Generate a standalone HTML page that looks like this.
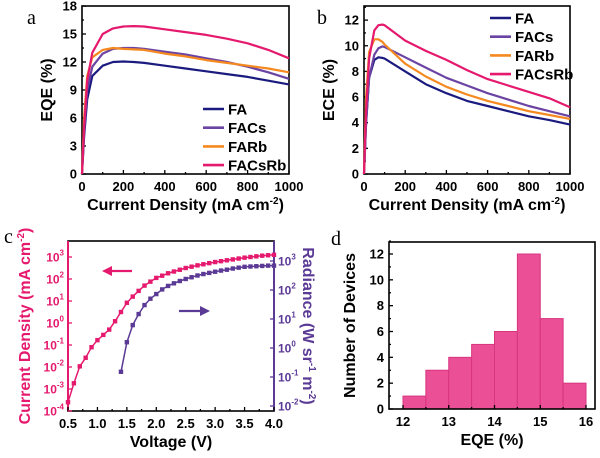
<!DOCTYPE html>
<html><head><meta charset="utf-8"><style>
body{margin:0;background:#fff;width:600px;height:453px;overflow:hidden}
svg{font-family:"Liberation Sans",Arial,sans-serif;font-weight:bold}
.pl{font-family:"Liberation Serif",serif;font-weight:normal;font-size:20px}
</style></head><body>
<svg id="fig" width="600" height="453" viewBox="0 0 600 453" xmlns="http://www.w3.org/2000/svg"></svg>
<script>
// ---- data panel a (EQE) ----
const eqeX=[0,10,25,50,100,150,200,250,300,400,500,600,700,800,900,1000];
const eqeFA=[0,4,8,10.5,11.6,12,12.05,12.0,11.9,11.6,11.3,11.0,10.7,10.4,10.0,9.6];
const eqeFACs=[0,4.5,9,11.5,12.9,13.4,13.5,13.5,13.4,13.1,12.8,12.4,12.0,11.5,10.9,10.2];
const eqeFARb=[0,6,10.5,12.5,13.3,13.5,13.4,13.35,13.3,12.9,12.6,12.2,11.9,11.6,11.3,10.9];
const eqeFACsRb=[0,5,10,13,15,15.6,15.8,15.85,15.8,15.5,15.2,14.9,14.5,14.0,13.3,12.4];
// ---- data panel b (ECE) ----
const eceX=[0,10,25,50,70,90,100,200,300,400,500,600,700,800,900,1000];
const eceFA=[0,4,7.5,8.9,9.1,9.05,9.0,8.0,7.0,6.3,5.7,5.3,4.9,4.5,4.2,3.85];
const eceFACs=[0,4,7.5,9.3,9.8,9.95,9.9,9.1,8.3,7.5,6.9,6.3,5.8,5.3,4.9,4.5];
const eceFARb=[0,6,9.5,10.5,10.5,10.3,10.1,8.6,7.6,6.8,6.2,5.7,5.3,4.9,4.6,4.3];
const eceFACsRb=[0,5,9,11.2,11.6,11.65,11.6,10.4,9.6,8.9,8.1,7.4,6.9,6.4,5.9,5.2];
// ---- data panel c (log10 values) ----
const voltJ=[0.5,0.6,0.7,0.8,0.9,1.0,1.1,1.2,1.3,1.4,1.5,1.6,1.7,1.8,1.9,2.0,2.1,2.2,2.3,2.4,2.5,2.6,2.7,2.8,2.9,3.0,3.1,3.2,3.3,3.4,3.5,3.6,3.7,3.8,3.9,4.0];
const logJ=[-3.6,-2.74,-1.97,-1.58,-1.1,-0.78,-0.54,-0.3,0.08,0.5,0.92,1.2,1.46,1.7,1.88,2.05,2.15,2.26,2.34,2.42,2.5,2.56,2.62,2.67,2.72,2.77,2.81,2.85,2.89,2.93,2.97,3.0,3.03,3.06,3.08,3.1];
const voltR=[1.4,1.5,1.6,1.7,1.8,1.9,2.0,2.1,2.2,2.3,2.4,2.5,2.6,2.7,2.8,2.9,3.0,3.1,3.2,3.3,3.4,3.5,3.6,3.7,3.8,3.9,4.0];
const logR=[-0.82,0.2,0.79,1.17,1.48,1.7,1.86,2.02,2.14,2.23,2.31,2.38,2.44,2.5,2.55,2.59,2.63,2.67,2.7,2.74,2.77,2.8,2.81,2.82,2.83,2.84,2.84];
// ---- data panel d (histogram) ----
const binStart=[12,12.5,13,13.5,14,14.5,15,15.5];
const binCount=[1,3,4,5,6,12,7,2];
const seriesNames=["FA","FACs","FARb","FACsRb"];
const seriesColors=["#1b1b7f","#6b44a3","#f5891f","#e5196d"];

const NS="http://www.w3.org/2000/svg";
const fig=document.getElementById('fig');
function mk(tag,attrs,parent,text){const e=document.createElementNS(NS,tag);for(const k in attrs)e.setAttribute(k,attrs[k]);if(text!==undefined)e.textContent=text;(parent||fig).appendChild(e);return e;}
function lin(d0,d1,r0,r1){return v=>r0+(v-d0)*(r1-r0)/(d1-d0);}
function box(x0,y0,x1,y1,name){const r=mk('rect',{x:x0,y:y0,width:x1-x0,height:y1-y0,fill:'none',stroke:'#000','stroke-width':1.6});}
function path(xs,ys,sx,sy,color,w,name){let d='';xs.forEach((x,i)=>{d+=(i?'L':'M')+sx(x).toFixed(1)+','+sy(ys[i]).toFixed(1);});const p=mk('path',{d:d,fill:'none',stroke:color,'stroke-width':w,'stroke-linejoin':'round'});return p;}
function txt(x,y,s,opts,name){const t=mk('text',Object.assign({x:x,y:y,'font-size':12},opts||{}),fig,s);return t;}
function tick(x1,y1,x2,y2,c){mk('line',{x1:x1,y1:y1,x2:x2,y2:y2,stroke:c||'#000','stroke-width':1.3});}

// ---------- generic EQE/ECE panel ----------
function curvePanel(o){
  const sx=lin(0,1000,o.x0,o.x1), sy=lin(0,o.ymax,o.y1,o.y0);
  box(o.x0,o.y0,o.x1,o.y1,o.id+'-plot-frame');
  for(let v=0;v<=1000;v+=100){tick(sx(v),o.y1,sx(v),o.y1-(v%200?2:4));}
  for(let v=0;v<=1000;v+=200){txt(sx(v),o.y1+17,String(v),{'text-anchor':'middle','font-size':13},o.id+'-x-tick-'+v);}
  for(let v=0;v<=o.ymax+0.001;v+=o.minor){const maj=Math.abs(v/o.major-Math.round(v/o.major))<1e-6;tick(o.x0,sy(v),o.x0+(maj?4:2),sy(v));}
  for(let v=0;v<=o.ymax+0.001;v+=o.major){txt(o.x0-5,sy(v)+4.5,String(v),{'text-anchor':'end','font-size':13},o.id+'-y-tick-'+v);}
  o.series.forEach((s,i)=>path(o.xs,s,sx,sy,seriesColors[i],2.2,o.id+'-line-'+seriesNames[i].toLowerCase()));
  const xt=txt((o.x0+o.x1)/2,o.y1+36,'',{'text-anchor':'middle','font-size':16},o.id+'-x-axis-title');
  xt.innerHTML='Current Density (mA cm<tspan dy="-6" font-size="10">-2</tspan><tspan dy="6">)</tspan>';
  const yt=txt(0,0,o.ytitle,{'text-anchor':'middle','font-size':16,transform:'translate('+(o.x0-30)+','+((o.y0+o.y1)/2)+') rotate(-90)'},o.id+'-y-axis-title');
  seriesNames.forEach((n,i)=>{const yy=o.ly+i*18.7;const l=mk('line',{x1:o.lx,y1:yy,x2:o.lx+21,y2:yy,stroke:seriesColors[i],'stroke-width':2.6});txt(o.lx+25,yy+5.5,n,{'font-size':15},o.id+'-legend-label-'+n.toLowerCase());});
  txt(o.lbx,24,o.letter,{class:'pl'},'panel-label-'+o.letter);
}
curvePanel({id:'eqe',letter:'a',lbx:27,x0:82,x1:289,y0:6,y1:174,ymax:18,major:3,minor:1.5,xs:eqeX,series:[eqeFA,eqeFACs,eqeFARb,eqeFACsRb],ytitle:'EQE (%)',lx:203,ly:109});
curvePanel({id:'ece',letter:'b',lbx:317,x0:364,x1:570,y0:6,y1:174,ymax:13.1,major:2,minor:1,xs:eceX,series:[eceFA,eceFACs,eceFARb,eceFACsRb],ytitle:'ECE (%)',lx:490,ly:18});
// fix ECE y tick max label loop: major ticks up to 12 handled by loop (<=13.1)

// ---------- panel c ----------
(function(){
  const x0=68,x1=274,y0=241,y1=411, pink='#e5196d', purp='#5b3a96';
  const sx=lin(0.5,4.0,x0,x1), syL=lin(-4,3,411,257), syR=lin(-2,3,406,261);
  box(x0,y0,x1,y1,'jv-plot-frame');
  mk('line',{x1:x0,y1:y0,x2:x0,y2:y1,stroke:pink,'stroke-width':2});
  mk('line',{x1:x1,y1:y0,x2:x1,y2:y1,stroke:purp,'stroke-width':2});
  for(let v=0.5;v<=4.001;v+=0.25){tick(sx(v),y1,sx(v),y1-(Math.abs(v*2-Math.round(v*2))<1e-6?4:2));}
  for(let i=0;i<=7;i++){const v=0.5+i*0.5;txt(sx(v),y1+17,v.toFixed(1),{'text-anchor':'middle','font-size':13},'jv-x-tick-'+v.toFixed(1));}
  for(let e=-4;e<=3;e++){tick(x0,syL(e),x0+4,syL(e),pink);const t=txt(x0-4,syL(e)+4.5,'',{'text-anchor':'end','font-size':12,fill:pink},'jv-left-tick-'+e);t.innerHTML='10<tspan dy="-6" font-size="8">'+e+'</tspan>';}
  for(let e=-2;e<=3;e++){tick(x1,syR(e),x1-4,syR(e),purp);const t=txt(x1+4,syR(e)+4.5,'',{'font-size':12,fill:purp},'jv-right-tick-'+e);t.innerHTML='10<tspan dy="-6" font-size="8">'+e+'</tspan>';}
  path(voltJ,logJ,sx,syL,pink,1.5,'current-density-line');
  path(voltR,logR,sx,syR,purp,1.5,'radiance-line');
  voltJ.forEach((v,i)=>{const r=mk('rect',{x:sx(v)-2.2,y:syL(logJ[i])-2.2,width:4.4,height:4.4,fill:pink});});
  voltR.forEach((v,i)=>{const r=mk('rect',{x:sx(v)-2.2,y:syR(logR[i])-2.2,width:4.4,height:4.4,fill:purp});});
  // arrows
  mk('line',{x1:132,y1:271,x2:110,y2:271,stroke:pink,'stroke-width':2.2});mk('polygon',{points:'102,271,112,266,112,276',fill:pink});
  mk('line',{x1:179,y1:311,x2:200,y2:311,stroke:purp,'stroke-width':2.2});mk('polygon',{points:'210,311,200,306,200,316',fill:purp});
  txt((x0+x1)/2,y1+36,'Voltage (V)',{'text-anchor':'middle','font-size':16},'jv-x-axis-title');
  const yl=txt(0,0,'',{'text-anchor':'middle','font-size':16,fill:pink,transform:'translate(30,'+((y0+y1)/2)+') rotate(-90)'},'jv-left-axis-title');
  yl.innerHTML='Current Density (mA cm<tspan dy="-6" font-size="10">-2</tspan><tspan dy="6">)</tspan>';
  const yr=txt(0,0,'',{'text-anchor':'middle','font-size':16,fill:purp,transform:'translate(303,'+((y0+y1)/2)+') rotate(90)'},'jv-right-axis-title');
  yr.innerHTML='Radiance (W sr<tspan dy="-6" font-size="10">-1</tspan><tspan dy="6"> m</tspan><tspan dy="-6" font-size="10">-2</tspan><tspan dy="6">)</tspan>';
  txt(4,243,'c',{class:'pl'},'panel-label-c');
})();

// ---------- panel d ----------
(function(){
  const x0=389,x1=595,y0=242,y1=409;
  const sx=lin(12,16,403,586), sy=lin(0,12,409,254);
  binStart.forEach((b,i)=>{const r=mk('rect',{x:sx(b),y:sy(binCount[i]),width:sx(b+0.5)-sx(b),height:sy(0)-sy(binCount[i]),fill:'#eb4f96',stroke:'#d8357f','stroke-width':1});});
  box(x0,y0,x1,y1,'hist-plot-frame');
  for(let v=12;v<=16;v+=0.5){tick(sx(v),y1,sx(v),y1-(v%1?2:4));}
  for(let v=12;v<=16;v++){txt(sx(v),y1+17,String(v),{'text-anchor':'middle','font-size':13},'hist-x-tick-'+v);}
  for(let v=0;v<=13;v++){tick(x0,sy(v),x0+(v%2?2:4),sy(v));}
  for(let v=0;v<=12;v+=2){txt(x0-5,sy(v)+4.5,String(v),{'text-anchor':'end','font-size':13},'hist-y-tick-'+v);}
  txt((x0+x1)/2,y1+36,'EQE (%)',{'text-anchor':'middle','font-size':16},'hist-x-axis-title');
  txt(0,0,'Number of Devices',{'text-anchor':'middle','font-size':16,transform:'translate(355,'+((y0+y1)/2)+') rotate(-90)'},'hist-y-axis-title');
  txt(331,245,'d',{class:'pl'},'panel-label-d');
})();
</script>
</body></html>
